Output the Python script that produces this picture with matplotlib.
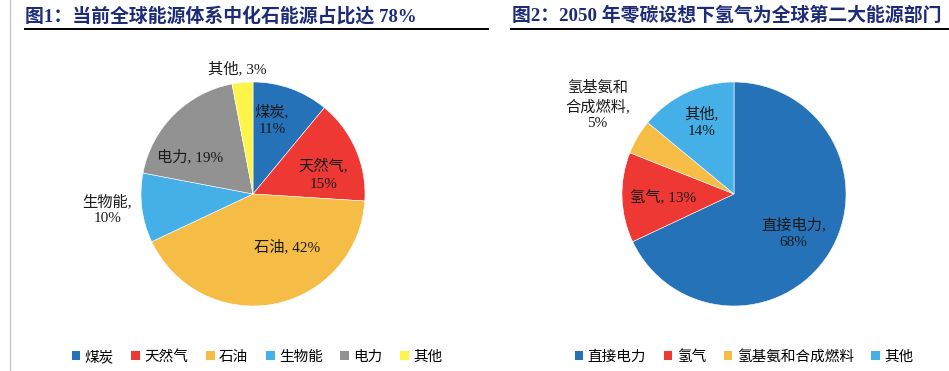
import matplotlib
matplotlib.use("Agg")
import matplotlib.pyplot as plt
from matplotlib.patches import Patch
from matplotlib.lines import Line2D
import numpy as np

plt.rcParams['font.family'] = ['Liberation Serif', 'Noto Sans CJK SC', 'DejaVu Sans']

# ─── 数据 ───
left_title = "图1：当前全球能源体系中化石能源占比达 78%"
left_labels = ["煤炭", "天然气", "石油", "生物能", "电力", "其他"]
left_values = [11, 15, 42, 10, 19, 3]
left_colors = ["#2672B8", "#EE3834", "#F5BD45", "#45AFE8", "#929292", "#FFF54A"]
left_text = ["煤炭,\n11%", "天然气,\n15%", "石油, 42%", "生物能,\n10%", "电力, 19%", "其他, 3%"]

right_title = "图2：2050 年零碳设想下氢气为全球第二大能源部门"
right_labels = ["直接电力", "氢气", "氢基氨和合成燃料", "其他"]
right_values = [68, 13, 5, 14]
right_colors = ["#2672B8", "#EE3834", "#F5BD45", "#45AFE8"]
right_text = ["直接电力,\n68%", "氢气, 13%", "氢基氨和\n合成燃料,\n5%", "其他,\n14%"]

# label positions in pie-radius units
left_pos = [(0.17, 0.66), (0.63, 0.17), (0.30, -0.47), (-1.30, -0.14), (-0.56, 0.33), (-0.14, 1.12)]
right_pos = [(0.53, -0.35), (-0.63, -0.03), (-1.22, 0.79), (-0.29, 0.64)]

W, H = 949, 371
fig = plt.figure(figsize=(W / 100, H / 100), dpi=100)

navy = "#1E2C78"
txt_font = dict(fontsize=11, color="#1a1a1a", ha="center", va="center", linespacing=1.35)


def draw_pie(cx, cy, r, values, colors, texts, pos):
    ax = fig.add_axes([(cx - r) / W, 1 - (cy + r) / H, 2 * r / W, 2 * r / H])
    ax.pie(values, colors=colors, startangle=90, counterclock=False, radius=1,
           wedgeprops=dict(edgecolor="white", linewidth=0.4))
    ax.set_xlim(-1, 1)
    ax.set_ylim(-1, 1)
    ax.set_aspect("equal")
    ax.axis("off")
    for t, (x, y) in zip(texts, pos):
        ax.text(x, y, t, **txt_font)
    return ax


draw_pie(253, 194, 112, left_values, left_colors, left_text, left_pos)
draw_pie(734, 194, 112, right_values, right_colors, right_text, right_pos)

# ─── 标题与下划线 ───
fig.text(25 / W, 1 - 16 / H, left_title, fontsize=13.6, fontweight="bold", color=navy,
         ha="left", va="center")
fig.text(512 / W, 1 - 16 / H, right_title, fontsize=13.6, fontweight="bold", color=navy,
         ha="left", va="center")
fig.add_artist(Line2D([25 / W, 488 / W], [1 - 29 / H, 1 - 29 / H], color="black", lw=1.4))
fig.add_artist(Line2D([511 / W, 1.0], [1 - 29 / H, 1 - 29 / H], color="black", lw=1.4))
fig.add_artist(Line2D([10 / W, 10 / W], [0, 1], color="#c8c8c8", lw=1))

# ─── 图例 ───
def legend(labels, colors, cx):
    handles = [Patch(facecolor=c, edgecolor="none") for c in colors]
    fig.legend(handles, labels, loc="center", bbox_to_anchor=(cx / W, 1 - 357 / H),
               ncol=len(labels), frameon=False, fontsize=10.5, handlelength=0.6,
               handleheight=0.6, handletextpad=0.3, columnspacing=1.2)


legend(left_labels, left_colors, 257)
legend(right_labels, right_colors, 744)

fig.savefig("out.png", dpi=100, facecolor="white")
